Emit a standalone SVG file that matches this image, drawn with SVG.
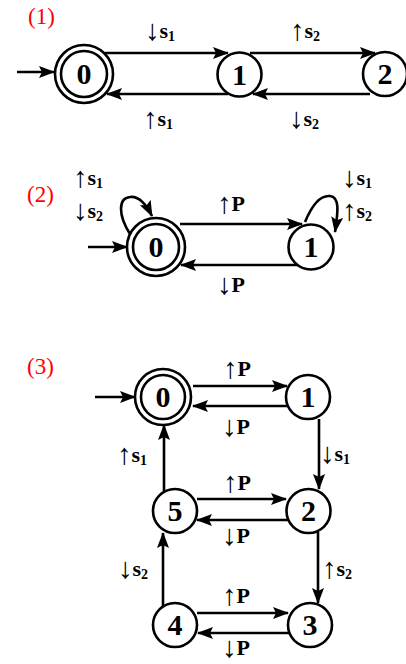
<svg xmlns="http://www.w3.org/2000/svg" width="406" height="664" viewBox="0 0 406 664">
<defs>
<marker id="ah" markerUnits="userSpaceOnUse" markerWidth="17" markerHeight="13" refX="15" refY="6" orient="auto">
<path d="M0,0 L16,6 L0,12 L3,6 z" fill="#000"/>
</marker>
<style>
.n{fill:#fff;stroke:#000;stroke-width:2.6}
.e{fill:none;stroke:#000;stroke-width:2.6;marker-end:url(#ah)}
.ar{font-weight:normal;font-size:29px}
.sub{font-size:14px}
</style>
</defs>
<rect width="406" height="664" fill="#fff"/>
<g font-family="Liberation Serif, Times New Roman, serif" font-size="23" fill="#f00">
<text x="28" y="24">(1)</text>
<text x="27" y="202">(2)</text>
<text x="27" y="374">(3)</text>
</g>
<g id="connectors">
<path class="e" d="M17,72 L54,72"/>
<path class="e" d="M105,53 L228,53"/>
<path class="e" d="M250,53 L375,53"/>
<path class="e" d="M370,94 L253,94"/>
<path class="e" d="M228,94 L107,94"/>
<path class="e" d="M88,247 L127,247"/>
<path class="e" d="M180,224 L302,224"/>
<path class="e" d="M300,265 L181,265"/>
<path class="e" d="M130,234 C118,215 118,198 130,197 C138,196 145,202 152,216"/>
<path class="e" d="M305,222 C312,205 320,195 330,196 C340,197 338,212 335,232"/>
<path class="e" d="M95,397 L135,397"/>
<path class="e" d="M193,386 L287,386"/>
<path class="e" d="M288,406 L193,406"/>
<path class="e" d="M319,419 L319,489"/>
<path class="e" d="M164,493 L164,425"/>
<path class="e" d="M197,499 L286,499"/>
<path class="e" d="M288,520 L197,520"/>
<path class="e" d="M318,532 L318,603"/>
<path class="e" d="M163,606 L163,533"/>
<path class="e" d="M197,613 L288,613"/>
<path class="e" d="M289,633 L198,633"/>
</g>
<g font-family="Liberation Serif, Times New Roman, serif" font-size="30" font-weight="bold" text-anchor="middle">
<g id="d1n0"><circle class="n" cx="84" cy="74" r="29"/><circle class="n" cx="84" cy="74" r="23"/><text x="84" y="84">0</text></g>
<g id="d1n1"><circle class="n" cx="239.5" cy="74.5" r="22"/><text x="239.5" y="84.5">1</text></g>
<g id="d1n2"><circle class="n" cx="385" cy="74" r="22"/><text x="385" y="84">2</text></g>
<g id="d2n0"><circle class="n" cx="156" cy="247" r="29"/><circle class="n" cx="156" cy="247" r="23"/><text x="156" y="257">0</text></g>
<g id="d2n1"><circle class="n" cx="311" cy="247" r="22.5"/><text x="311" y="257">1</text></g>
<g id="d3n0"><circle class="n" cx="163" cy="397" r="28"/><circle class="n" cx="163" cy="397" r="22"/><text x="163" y="407">0</text></g>
<g id="d3n1"><circle class="n" cx="308" cy="397" r="22"/><text x="308" y="407">1</text></g>
<g id="d3n2"><circle class="n" cx="308.5" cy="511" r="22"/><text x="308.5" y="521">2</text></g>
<g id="d3n5"><circle class="n" cx="175" cy="511" r="22"/><text x="175" y="521">5</text></g>
<g id="d3n4"><circle class="n" cx="175" cy="625" r="22"/><text x="175" y="635">4</text></g>
<g id="d3n3"><circle class="n" cx="310" cy="625" r="22"/><text x="310" y="635">3</text></g>
</g>
<g id="labels" font-family="Liberation Serif, Times New Roman, serif" font-size="22" font-weight="bold">
<text x="145" y="38"><tspan class="ar" dy="2">↓</tspan><tspan dy="-2">s</tspan><tspan class="sub" dy="3">1</tspan></text>
<text x="290" y="38"><tspan class="ar" dy="2">↑</tspan><tspan dy="-2">s</tspan><tspan class="sub" dy="3">2</tspan></text>
<text x="143" y="126"><tspan class="ar" dy="2">↑</tspan><tspan dy="-2">s</tspan><tspan class="sub" dy="3">1</tspan></text>
<text x="289" y="126"><tspan class="ar" dy="2">↓</tspan><tspan dy="-2">s</tspan><tspan class="sub" dy="3">2</tspan></text>
<text x="73" y="185"><tspan class="ar" dy="2">↑</tspan><tspan dy="-2">s</tspan><tspan class="sub" dy="3">1</tspan></text>
<text x="73" y="218"><tspan class="ar" dy="2">↓</tspan><tspan dy="-2">s</tspan><tspan class="sub" dy="3">2</tspan></text>
<text x="217" y="211"><tspan class="ar" dy="2">↑</tspan><tspan dy="-2">P</tspan></text>
<text x="217" y="292"><tspan class="ar" dy="2">↓</tspan><tspan dy="-2">P</tspan></text>
<text x="342" y="185"><tspan class="ar" dy="2">↓</tspan><tspan dy="-2">s</tspan><tspan class="sub" dy="3">1</tspan></text>
<text x="342" y="218"><tspan class="ar" dy="2">↑</tspan><tspan dy="-2">s</tspan><tspan class="sub" dy="3">2</tspan></text>
<text x="223" y="376"><tspan class="ar" dy="2">↑</tspan><tspan dy="-2">P</tspan></text>
<text x="222" y="434"><tspan class="ar" dy="2">↓</tspan><tspan dy="-2">P</tspan></text>
<text x="117" y="462"><tspan class="ar" dy="2">↑</tspan><tspan dy="-2">s</tspan><tspan class="sub" dy="3">1</tspan></text>
<text x="320" y="461"><tspan class="ar" dy="2">↓</tspan><tspan dy="-2">s</tspan><tspan class="sub" dy="3">1</tspan></text>
<text x="223" y="490"><tspan class="ar" dy="2">↑</tspan><tspan dy="-2">P</tspan></text>
<text x="222" y="543"><tspan class="ar" dy="2">↓</tspan><tspan dy="-2">P</tspan></text>
<text x="118" y="576"><tspan class="ar" dy="2">↓</tspan><tspan dy="-2">s</tspan><tspan class="sub" dy="3">2</tspan></text>
<text x="322" y="576"><tspan class="ar" dy="2">↑</tspan><tspan dy="-2">s</tspan><tspan class="sub" dy="3">2</tspan></text>
<text x="222" y="603"><tspan class="ar" dy="2">↑</tspan><tspan dy="-2">P</tspan></text>
<text x="222" y="655"><tspan class="ar" dy="2">↓</tspan><tspan dy="-2">P</tspan></text>
</g>
</svg>
